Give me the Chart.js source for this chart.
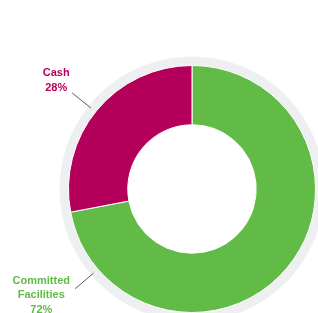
<!DOCTYPE html>
<html>
<head>
<meta charset="utf-8">
<script src="https://cdn.jsdelivr.net/npm/chart.js@4"></script>
<style>
  html, body { margin: 0; padding: 0; background: #fff; }
  #wrap { width: 318px; height: 313px; position: relative; }
</style>
</head>
<body>
<div id="wrap"><canvas id="donut"></canvas></div>
<script>
// data
var kategorien = [['Committed', 'Facilities'], ['Cash']];
var anteile = [72, 28];
var farben = ['#62bb46', '#b5005b'];

// label placement (angle in degrees clockwise from top, text offset from line end)
var labelPos = [
    { winkel: 229.5, dx: -34, dy: -8 },
    { winkel: 308.7, dx: -16, dy: -20 }
];

// grey ring behind the donut + labels with leader lines
var ringUndLabels = {
    id: 'ringUndLabels',
    beforeDatasetsDraw: function(chart) {
        var arc = chart.getDatasetMeta(0).data[0];
        var ctx = chart.ctx;
        ctx.save();
        ctx.beginPath();
        ctx.arc(arc.x, arc.y, arc.outerRadius + 9, 0, Math.PI * 2);
        ctx.arc(arc.x, arc.y, arc.outerRadius - 1, 0, Math.PI * 2, true);
        ctx.fillStyle = '#eeeff0';
        ctx.fill();
        ctx.restore();
    },
    afterDatasetsDraw: function(chart) {
        var arc = chart.getDatasetMeta(0).data[0];
        var ctx = chart.ctx;
        ctx.save();
        chart.data.labels.forEach(function(zeilen, i) {
            var pos = labelPos[i];
            var w = pos.winkel * Math.PI / 180;
            var sx = Math.sin(w), sy = -Math.cos(w);
            var r1 = arc.outerRadius + 6, r2 = arc.outerRadius + 30;
            var x2 = arc.x + sx * r2, y2 = arc.y + sy * r2;
            ctx.beginPath();
            ctx.moveTo(arc.x + sx * r1, arc.y + sy * r1);
            ctx.lineTo(x2, y2);
            ctx.strokeStyle = '#5a5a5a';
            ctx.lineWidth = 1;
            ctx.stroke();

            var text = zeilen.concat([anteile[i] + '%']);
            ctx.font = 'bold 11px "Liberation Sans", Arial, sans-serif';
            ctx.fillStyle = farben[i];
            ctx.textAlign = 'center';
            ctx.textBaseline = 'middle';
            text.forEach(function(t, j) {
                ctx.fillText(t, x2 + pos.dx, y2 + pos.dy + j * 14.5);
            });
        });
        ctx.restore();
    }
};

var ctxDonut = document.getElementById('donut').getContext('2d');
var donutChart = new Chart(ctxDonut, {
    type: 'doughnut',
    data: {
        labels: kategorien,
        datasets: [{
            data: anteile,
            backgroundColor: farben,
            borderColor: '#ffffff',
            borderWidth: 1
        }]
    },
    options: {
        responsive: true,
        maintainAspectRatio: false,
        animation: false,
        cutout: '52%',
        layout: {
            padding: { left: 66, right: 0, top: 65, bottom: 0 }
        },
        plugins: {
            legend: { display: false },
            tooltip: { enabled: false }
        }
    },
    plugins: [ringUndLabels]
});
</script>
</body>
</html>
